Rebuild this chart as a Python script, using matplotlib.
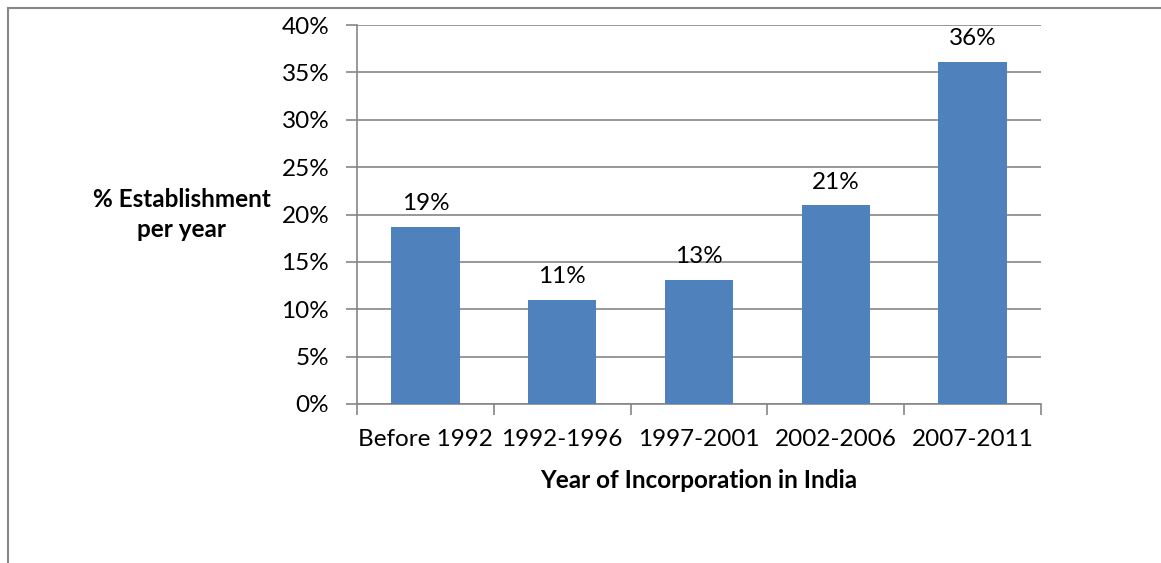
import matplotlib.pyplot as plt
from matplotlib.patches import Rectangle
from matplotlib.ticker import PercentFormatter

# Share of establishments by year of incorporation in India
periods = ['Before 1992', '1992-1996', '1997-2001', '2002-2006', '2007-2011']
shares = [18.7, 11.0, 13.1, 21.0, 36.1]

plt.rcParams['font.family'] = ['Lato', 'DejaVu Sans']
fs = 17.5

fig = plt.figure(figsize=(11.61, 5.63), dpi=100)
ax = fig.add_axes([357 / 1161, 1 - 404 / 563, (1041 - 357) / 1161, (404 - 25) / 563])

# chart frame (runs off the right and bottom edges)
fig.patches.append(Rectangle((8 / 1161, -0.1), 1.2, 1 - 8 / 563 + 0.1,
                             transform=fig.transFigure, fill=False,
                             edgecolor='#878787', linewidth=1.5))

x = range(len(periods))
ax.bar(x, shares, width=0.5, color='#4F81BD', zorder=3)

for i, v in enumerate(shares):
    ax.annotate(f'{v:.0f}%', (i, v), xytext=(0, 9), textcoords='offset points',
                ha='center', va='bottom', fontsize=fs)

ax.set_xlim(-0.5, len(periods) - 0.5)
ax.set_ylim(0, 40)
ax.set_yticks(range(0, 41, 5))
ax.yaxis.set_major_formatter(PercentFormatter(decimals=0))
ax.grid(axis='y', color='#868686', linewidth=1.2, zorder=0)

ax.set_xticks(x)
ax.set_xticklabels(periods, fontsize=fs)
ax.set_xticks([i - 0.5 for i in range(len(periods) + 1)], minor=True)
ax.tick_params(axis='x', which='major', length=0, pad=18)
ax.tick_params(axis='x', which='minor', length=8, width=1.2, color='#868686')
ax.tick_params(axis='y', length=8, width=1.2, color='#868686', labelsize=fs, pad=12)

for side in ['top', 'right']:
    ax.spines[side].set_visible(False)
for side in ['left', 'bottom']:
    ax.spines[side].set_color('#868686')
    ax.spines[side].set_linewidth(1.2)

ax.set_xlabel('Year of Incorporation in India', fontsize=fs, fontweight='bold', labelpad=14)
ax.set_ylabel('% Establishment\nper year', fontsize=fs, fontweight='bold',
              rotation=0, ha='center', va='center', labelpad=0, linespacing=1.35)
ax.yaxis.set_label_coords(-0.256, 0.5)

fig.savefig('out.png', dpi=100)
